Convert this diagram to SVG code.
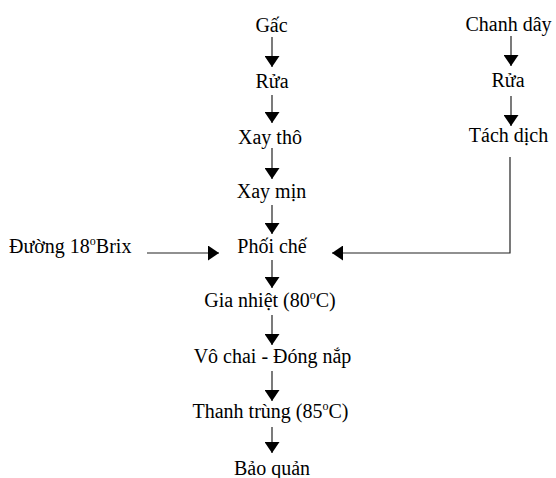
<svg xmlns="http://www.w3.org/2000/svg" width="556" height="478" viewBox="0 0 556 478">
<defs>
<marker id="ah" viewBox="0 0 11 15" refX="11" refY="7.5" markerWidth="11" markerHeight="15" markerUnits="userSpaceOnUse" orient="auto">
<path d="M0,0 L11,7.5 L0,15 Z" fill="#000"/>
</marker>
</defs>
<style>
text{font-family:'Liberation Serif','Times New Roman',Times,serif;font-size:20px;fill:#000}
.m{text-anchor:middle}
.c{fill:none;stroke:#222;stroke-width:1.2}
.a{marker-end:url(#ah)}
</style>
<rect width="556" height="478" fill="#fff"/>
<g id="connectors">
<line class="c a" x1="272" y1="37" x2="272" y2="67"/>
<line class="c a" x1="272" y1="95" x2="272" y2="123"/>
<line class="c a" x1="272" y1="148" x2="272" y2="179"/>
<line class="c a" x1="272" y1="205" x2="272" y2="234"/>
<line class="c a" x1="272" y1="260" x2="272" y2="288"/>
<line class="c a" x1="272" y1="315" x2="272" y2="345"/>
<line class="c a" x1="272" y1="371" x2="272" y2="401"/>
<line class="c a" x1="272" y1="427" x2="272" y2="453"/>
<line class="c a" x1="511" y1="36" x2="511" y2="66"/>
<line class="c a" x1="511" y1="96" x2="511" y2="126"/>
<line class="c a" x1="147" y1="253" x2="219" y2="253"/>
<polyline class="c a" points="510,157 510,253 332,253"/>
</g>
<g id="n-gac"><text class="m" x="271.5" y="32" font-family="Liberation Serif, serif">Gấc</text></g>
<g id="n-rua1"><text class="m" x="272" y="88" font-family="Liberation Serif, serif">Rửa</text></g>
<g id="n-xaytho"><text class="m" x="270" y="144" font-family="Liberation Serif, serif">Xay thô</text></g>
<g id="n-xaymin"><text class="m" x="271.5" y="198" font-family="Liberation Serif, serif">Xay mịn</text></g>
<g id="n-phoiche"><text class="m" x="272" y="253" font-family="Liberation Serif, serif">Phối chế</text></g>
<g id="n-gianhiet"><text class="m" x="270" y="307" font-family="Liberation Serif, serif">Gia nhiệt (80<tspan font-size="12" dy="-8">o</tspan><tspan dy="8">C)</tspan></text></g>
<g id="n-vochai"><text class="m" x="272.5" y="363" font-family="Liberation Serif, serif">Vô chai - Đóng nắp</text></g>
<g id="n-thanhtrung"><text class="m" x="270.5" y="418" font-family="Liberation Serif, serif">Thanh trùng (85<tspan font-size="12" dy="-8">o</tspan><tspan dy="8">C)</tspan></text></g>
<g id="n-baoquan"><text class="m" x="272" y="475" font-family="Liberation Serif, serif">Bảo quản</text></g>
<g id="n-chanhday"><text class="m" x="508.5" y="31" font-family="Liberation Serif, serif">Chanh dây</text></g>
<g id="n-rua2"><text class="m" x="508" y="87" font-family="Liberation Serif, serif">Rửa</text></g>
<g id="n-tachdich"><text class="m" x="508.5" y="142" font-family="Liberation Serif, serif">Tách dịch</text></g>
<g id="n-duong"><text x="9" y="253" font-family="Liberation Serif, serif">Đường 18<tspan font-size="12" dy="-8">o</tspan><tspan dy="8">Brix</tspan></text></g>
</svg>
